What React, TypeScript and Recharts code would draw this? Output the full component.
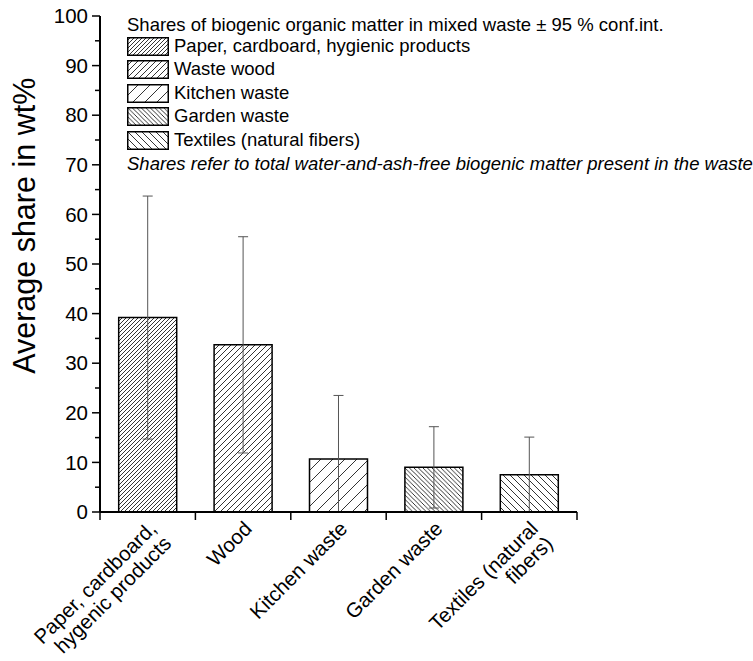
import React from 'react';
import { BarChart, Bar, XAxis, YAxis, ErrorBar, Cell, Legend, Label } from 'recharts';

// categories as plotted on the x axis, and the line breaks used for the rotated labels
const categories = ['Paper, cardboard, hygenic products', 'Wood', 'Kitchen waste', 'Garden waste', 'Textiles (natural fibers)'];
const categoryLines = [
  ['Paper, cardboard,', 'hygenic products'],
  ['Wood'],
  ['Kitchen waste'],
  ['Garden waste'],
  ['Textiles (natural', 'fibers)'],
];

// average share in wt% and the 95 % confidence half-width
const shares = [39.2, 33.7, 10.7, 9.0, 7.5];
const confInt = [24.5, 21.8, 12.8, 8.2, 7.6];

const yTicks = [0, 5, 10, 15, 20, 25, 30, 35, 40, 45, 50, 55, 60, 65, 70, 75, 80, 85, 90, 95, 100];
const yLabel = 'Average share in wt%';

const legendTitle = 'Shares of biogenic organic matter in mixed waste ± 95 % conf.int.';
const legendLabels = ['Paper, cardboard, hygienic products', 'Waste wood', 'Kitchen waste', 'Garden waste', 'Textiles (natural fibers)'];
const legendNote = 'Shares refer to total water-and-ash-free biogenic matter present in the waste';

// shares can't go below zero, so the lower whisker stops at the axis
const data = categories.map((name, i) => ({
  name,
  share: shares[i],
  ci: [Math.min(confInt[i], shares[i]), confInt[i]],
}));

// layout
const W = 753;
const H = 661;
const MARGIN = { top: 16, right: 176, bottom: 9, left: 30 };
const Y_AXIS_W = 70;
const X_AXIS_H = 140;
const HALF_BAND = (W - MARGIN.left - Y_AXIS_W - MARGIN.right) / categories.length / 2;
const FONT = '"Liberation Sans", Arial, sans-serif';
const TICK_FONT = 20.5;

// hatch fills, one per category (dir 1 = "/", -1 = "\")
const hatches = [
  { id: 'hatch-paper', dir: 1, gap: 4 },
  { id: 'hatch-wood', dir: 1, gap: 6 },
  { id: 'hatch-kitchen', dir: 1, gap: 12 },
  { id: 'hatch-garden', dir: -1, gap: 4.5 },
  { id: 'hatch-textile', dir: -1, gap: 7 },
];

const hatchPath = (dir: number, s: number) =>
  dir > 0
    ? `M0,${s} L${s},0 M${-s / 2},${s / 2} L${s / 2},${-s / 2} M${s / 2},${s * 1.5} L${s * 1.5},${s / 2}`
    : `M0,0 L${s},${s} M${-s / 2},${s / 2} L${s / 2},${s * 1.5} M${s / 2},${-s / 2} L${s * 1.5},${s / 2}`;

const XTick = (props: any) => {
  const { x, y, payload } = props;
  const idx = categories.indexOf(payload.value);
  const lines = categoryLines[idx] || [payload.value];
  const ax = x + 10;
  const ay = y + 18;
  return (
    <g>
      <line x1={x - HALF_BAND} y1={y} x2={x - HALF_BAND} y2={y + 8} stroke="#000" strokeWidth={1.5} />
      {idx === categories.length - 1 && (
        <line x1={x + HALF_BAND} y1={y} x2={x + HALF_BAND} y2={y + 8} stroke="#000" strokeWidth={1.5} />
      )}
      <text
        x={ax}
        y={ay}
        transform={`rotate(-45, ${ax}, ${ay})`}
        textAnchor="end"
        fontSize={TICK_FONT}
        fontFamily={FONT}
        fill="#000"
      >
        {lines.map((l: string, k: number) => (
          <tspan key={k} x={ax} dy={k === 0 ? 0 : 21}>
            {l}
          </tspan>
        ))}
      </text>
    </g>
  );
};

const YTick = (props: any) => {
  const { x, y, payload } = props;
  const major = payload.value % 10 === 0;
  return (
    <g>
      <line x1={x - (major ? 8 : 5)} y1={y} x2={x} y2={y} stroke="#000" strokeWidth={1.5} />
      {major && (
        <text x={x - 12} y={y} dy="0.35em" textAnchor="end" fontSize={TICK_FONT} fontFamily={FONT} fill="#000">
          {payload.value}
        </text>
      )}
    </g>
  );
};

const YTitle = (props: any) => {
  const { viewBox } = props;
  const cx = viewBox.x - 6;
  const cy = viewBox.y + viewBox.height * 0.423;
  return (
    <text
      x={cx}
      y={cy}
      transform={`rotate(-90, ${cx}, ${cy})`}
      textAnchor="middle"
      dominantBaseline="central"
      fontSize={30.5}
      fontFamily={FONT}
      fill="#000"
    >
      {yLabel}
    </text>
  );
};

const LegendBox = () => (
  <div style={{ fontFamily: FONT, fontSize: 18.5, color: '#000', lineHeight: 1, whiteSpace: 'nowrap', textAlign: 'left' }}>
    <div style={{ height: 24, display: 'flex', alignItems: 'center' }}>{legendTitle}</div>
    <div style={{ marginTop: -2.75 }}>
      {legendLabels.map((label, i) => (
        <div key={label} style={{ display: 'flex', alignItems: 'center', height: 23.5 }}>
          <svg width={42} height={19} style={{ display: 'block' }}>
            <rect x={0.75} y={0.75} width={40.5} height={17.5} fill={`url(#${hatches[i].id})`} stroke="#000" strokeWidth={1.5} />
          </svg>
          <span style={{ marginLeft: 5 }}>{label}</span>
        </div>
      ))}
    </div>
    <div style={{ height: 24, display: 'flex', alignItems: 'center', fontStyle: 'italic' }}>{legendNote}</div>
  </div>
);

export default function App() {
  return (
    <div style={{ position: 'absolute', left: 0, top: 0, width: W, height: H, background: '#fff' }}>
      <BarChart width={W} height={H} data={data} margin={MARGIN} barCategoryGap="19.6%">
        <defs>
          {hatches.map((h) => (
            <pattern key={h.id} id={h.id} patternUnits="userSpaceOnUse" width={h.gap} height={h.gap}>
              <rect width={h.gap} height={h.gap} fill="#fff" />
              <path d={hatchPath(h.dir, h.gap)} stroke="#000" strokeWidth={0.8} />
            </pattern>
          ))}
        </defs>
        <XAxis
          dataKey="name"
          height={X_AXIS_H}
          interval={0}
          tickLine={false}
          tickSize={0}
          tickMargin={0}
          tick={<XTick />}
          axisLine={{ stroke: '#000', strokeWidth: 2 }}
        />
        <YAxis
          width={Y_AXIS_W}
          domain={[0, 100]}
          ticks={yTicks}
          interval={0}
          allowDataOverflow
          tickLine={false}
          tickSize={0}
          tickMargin={0}
          tick={<YTick />}
          axisLine={{ stroke: '#000', strokeWidth: 2 }}
        >
          <Label content={<YTitle />} />
        </YAxis>
        <Legend
          layout="vertical"
          align="center"
          verticalAlign="middle"
          wrapperStyle={{ left: 127, top: 13, width: 626 }}
          content={() => <LegendBox />}
        />
        <Bar dataKey="share" stroke="#000" strokeWidth={1.5} isAnimationActive={false}>
          {data.map((d, i) => (
            <Cell key={d.name} fill={`url(#${hatches[i].id})`} />
          ))}
          <ErrorBar dataKey="ci" width={5} stroke="#555" strokeWidth={1} direction="y" />
        </Bar>
      </BarChart>
    </div>
  );
}
